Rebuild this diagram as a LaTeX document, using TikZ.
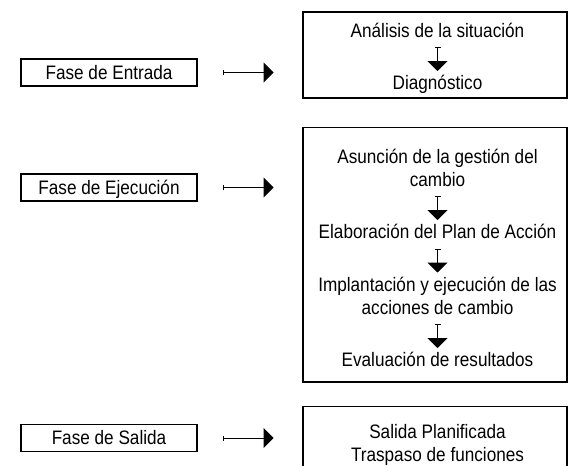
\documentclass[tikz,border=0pt]{standalone}
\usepackage{fontspec}
\setmainfont{Liberation Sans}[FakeStretch=0.88]
\usetikzlibrary{arrows.meta}
\newcommand\dgfont{\fontsize{19.5}{23}\selectfont}
\begin{document}
\begin{tikzpicture}[x=1pt,y=-1pt,
  lbox/.style={draw, line width=1.2pt, minimum width=176pt, minimum height=27pt,
    inner sep=0pt, text height=13.5pt, text depth=0pt, font=\dgfont},
  rbox/.style={draw, line width=1.2pt, inner sep=0pt, minimum width=264pt},
  txt/.style={inner sep=0pt, anchor=base, font=\dgfont},
  harrow/.style={line width=1pt, {Bar[width=5pt]}-{Triangle[width=20pt,length=10pt]}},
  varrow/.style={line width=1pt, {Bar[width=6pt]}-{Triangle[width=20pt,length=10pt]}}]
\clip (0,0) rectangle (568,466);
\fill[white] (0,0) rectangle (568,466);

% right boxes
\node[rbox, minimum height=86pt] (r1) at (435,55) {};
\node[rbox, minimum height=254.5pt] (r2) at (435,254.75) {};
\node[rbox, minimum height=73pt] (r3) at (435,443) {};

% left boxes
\node[lbox] (l1) at (109,72.5) {Fase de Entrada};
\node[lbox] (l2) at (109,187.5) {Fase de Ejecución};
\node[lbox] (l3) at (109,438) {Fase de Salida};

% texts
\node[txt] (a1) at (437.5,37) {Análisis de la situación};
\node[txt] (a2) at (437.5,89.5) {Diagnóstico};
\node[txt] (b1) at (437.5,163) {Asunción de la gestión del};
\node[txt] (b2) at (437.5,186) {cambio};
\node[txt] (b3) at (437.5,238.5) {Elaboración del Plan de Acción};
\node[txt] (b4) at (437.5,291) {Implantación y ejecución de las};
\node[txt] (b5) at (437.5,314) {acciones de cambio};
\node[txt] (b6) at (437.5,366.5) {Evaluación de resultados};
\node[txt] (c1) at (437.5,438.5) {Salida Planificada};
\node[txt] (c2) at (437.5,461.5) {Traspaso de funciones};

% vertical arrows
\draw[varrow] ([yshift=-10pt]a1.base) -- ([yshift=18.5pt]a2.base);
\draw[varrow] ([yshift=-10pt]b2.base) -- ([yshift=18.5pt]b3.base);
\draw[varrow] ([yshift=-10pt]b3.base) -- ([yshift=18.5pt]b4.base);
\draw[varrow] ([yshift=-10pt]b5.base) -- ([yshift=18.5pt]b6.base);

% horizontal arrows
\draw[harrow] ([xshift=25pt]l1.east) -- ([xshift=76pt]l1.east);
\draw[harrow] ([xshift=25pt]l2.east) -- ([xshift=76pt]l2.east);
\draw[harrow] ([xshift=25pt]l3.east) -- ([xshift=76pt]l3.east);
\end{tikzpicture}
\end{document}
